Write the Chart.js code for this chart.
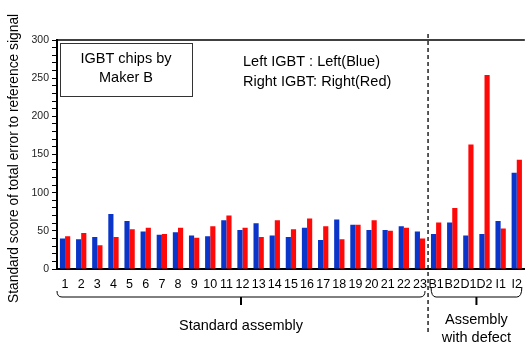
<!DOCTYPE html>
<html>
<head>
<meta charset="utf-8">
<script src="https://cdn.jsdelivr.net/npm/chart.js@4"></script>
<style>
  body { margin: 0; background: #fff; }
  canvas { display: block; }
</style>
</head>
<body>
<canvas id="myChart" width="530" height="345"></canvas>
<script>
const chipLabels = ["1", "2", "3", "4", "5", "6", "7", "8", "9", "10", "11", "12", "13", "14", "15", "16", "17", "18", "19", "20", "21", "22", "23", "B1", "B2", "D1", "D2", "I1", "I2"];
const leftBlue = [40, 39, 42, 72, 63, 49, 45, 48, 44, 43, 64, 51, 60, 44, 42, 54, 38, 65, 58, 51, 51, 56, 49, 46, 61, 44, 46, 63, 126];
const rightRed = [43, 47, 31, 42, 52, 54, 46, 54, 41, 56, 70, 54, 42, 64, 52, 66, 56, 39, 58, 64, 50, 54, 40, 61, 80, 163, 254, 53, 143];
const yTicks = [0, 50, 100, 150, 200, 250, 300];
const standardCount = 23;

const FONT = "'Liberation Sans', Arial, sans-serif";

// draws the frame top, dashed split, braces and text notes
const extras = {
  id: "extras",
  afterDraw(chart) {
    const ctx = chart.ctx;
    const area = chart.chartArea;
    const x = chart.scales.x;
    ctx.save();

    // top border
    ctx.strokeStyle = "#000";
    ctx.lineWidth = 1.5;
    ctx.beginPath();
    ctx.moveTo(area.left, area.top);
    ctx.lineTo(area.right, area.top);
    ctx.stroke();

    // dashed split line
    const splitX = x.getPixelForValue(standardCount - 0.5);
    ctx.lineWidth = 1.3;
    ctx.setLineDash([4, 3]);
    ctx.beginPath();
    ctx.moveTo(splitX, 34);
    ctx.lineTo(splitX, 334);
    ctx.stroke();
    ctx.setLineDash([]);

    // braces
    function brace(x1, x2, yTop, yLine, yTip) {
      const mid = (x1 + x2) / 2;
      ctx.lineWidth = 1;
      ctx.beginPath();
      ctx.moveTo(x1, yTop);
      ctx.quadraticCurveTo(x1, yLine, x1 + 5, yLine);
      ctx.lineTo(x2 - 5, yLine);
      ctx.quadraticCurveTo(x2, yLine, x2, yTop);
      ctx.stroke();
      ctx.lineWidth = 2;
      ctx.beginPath();
      ctx.moveTo(mid, yLine);
      ctx.lineTo(mid, yTip);
      ctx.stroke();
      return mid;
    }
    const leftMid = brace(area.left, splitX - 3, 291, 297, 305);
    const rightMid = brace(splitX + 3, area.right - 3, 287, 297, 305);

    ctx.fillStyle = "#000";
    ctx.font = "14.5px " + FONT;
    ctx.textAlign = "center";
    ctx.textBaseline = "middle";
    ctx.fillText("Standard assembly", leftMid, 326);
    ctx.fillText("Assembly", rightMid, 320);
    ctx.fillText("with defect", rightMid, 338);

    // maker box
    ctx.lineWidth = 1;
    ctx.strokeStyle = "#333";
    ctx.strokeRect(60.5, 43.5, 132, 53);
    ctx.fillText("IGBT chips by", 126, 59);
    ctx.fillText("Maker B", 126, 78);

    ctx.textAlign = "left";
    ctx.fillText("Left IGBT : Left(Blue)", 243, 62);
    ctx.fillText("Right IGBT: Right(Red)", 243, 82);

    // y axis title
    ctx.font = "13.8px " + FONT;
    ctx.translate(14, 303);
    ctx.rotate(-Math.PI / 2);
    ctx.textAlign = "left";
    ctx.fillText("Standard score of total error to reference signal", 0, 0);
    ctx.restore();
  }
};

new Chart(document.getElementById("myChart"), {
  type: "bar",
  data: {
    labels: chipLabels,
    datasets: [
      {
        label: "Left IGBT",
        data: leftBlue,
        backgroundColor: "#0b35c9",
        categoryPercentage: 0.64,
        barPercentage: 1,
      },
      {
        label: "Right IGBT",
        data: rightRed,
        backgroundColor: "#ff0808",
        categoryPercentage: 0.64,
        barPercentage: 1,
      },
    ],
  },
  options: {
    responsive: false,
    animation: false,
    layout: { padding: { top: 40, right: 1, left: 0, bottom: 0 } },
    plugins: {
      legend: { display: false },
      tooltip: { enabled: false },
    },
    scales: {
      x: {
        grid: { display: false, drawTicks: false },
        border: { display: true, color: "#000", width: 2 },
        ticks: {
          autoSkip: false,
          maxRotation: 0,
          padding: 8,
          color: "#000",
          font: { family: FONT, size: 12.5 },
        },
        afterFit(scale) { scale.height = 76; },
      },
      y: {
        min: 0,
        max: 300,
        grid: {
          display: true,
          drawOnChartArea: false,
          drawTicks: true,
          tickLength: 5,
          color: "#000",
        },
        border: { display: true, color: "#000", width: 2 },
        ticks: {
          stepSize: 10,
          autoSkip: false,
          padding: 3,
          color: "#222",
          font: { family: FONT, size: 10.5 },
          callback: (v) => (yTicks.includes(v) ? v : ""),
        },
        afterFit(scale) { scale.width = 57; },
      },
    },
  },
  plugins: [extras],
});
</script>
</body>
</html>
